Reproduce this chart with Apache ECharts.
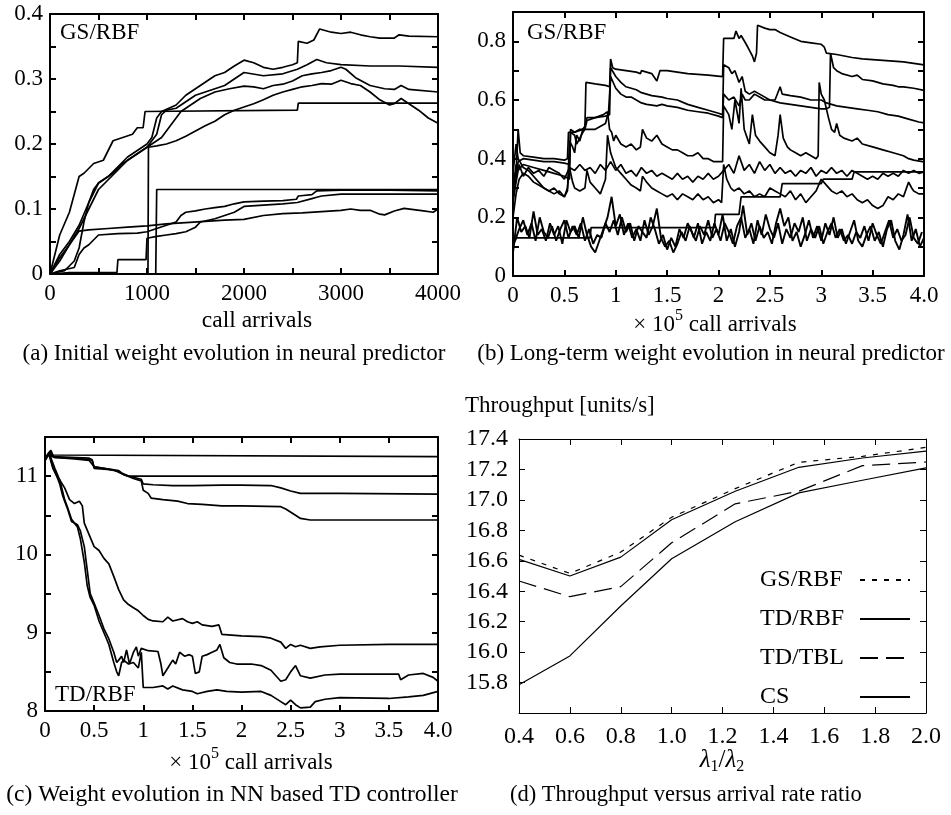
<!DOCTYPE html>
<html><head><meta charset="utf-8">
<script src="https://cdn.jsdelivr.net/npm/echarts@6/dist/echarts.min.js"></script>
<style>html,body{margin:0;padding:0;background:#fff}#c{width:951px;height:815px}</style>
</head><body><div id="c"></div>
<script>
// ---------- (a) Initial weight evolution (x: call arrivals, y: weight) ----------
const aW1 = [[0,0],[100,0.03],[200,0.05],[300,0.075],[400,0.11],[500,0.14],[600,0.15],[700,0.165],[800,0.18],[900,0.19],[1000,0.2],[1050,0.21],[1100,0.24],[1150,0.25],[1300,0.26],[1400,0.275],[1500,0.285],[1600,0.295],[1700,0.305],[1800,0.31],[1900,0.32],[2000,0.329],[2100,0.325],[2200,0.318],[2300,0.315],[2400,0.318],[2500,0.322],[2550,0.325],[2560,0.358],[2650,0.355],[2720,0.36],[2780,0.377],[2900,0.372],[3000,0.37],[3100,0.372],[3200,0.368],[3300,0.365],[3400,0.363],[3550,0.363],[3600,0.368],[3700,0.366],[4000,0.365]];
const aW2 = [[0,0],[100,0.025],[200,0.045],[300,0.07],[400,0.1],[500,0.13],[600,0.145],[700,0.16],[800,0.175],[900,0.185],[1000,0.195],[1100,0.215],[1150,0.245],[1200,0.252],[1300,0.255],[1400,0.265],[1500,0.275],[1600,0.28],[1700,0.285],[1800,0.29],[1900,0.3],[2000,0.31],[2200,0.305],[2400,0.308],[2550,0.315],[2650,0.322],[2750,0.33],[2850,0.325],[3000,0.322],[3300,0.32],[3600,0.32],[4000,0.318]];
const aW3 = [[0,0],[150,0.005],[250,0.02],[300,0.04],[350,0.08],[400,0.11],[450,0.13],[500,0.14],[650,0.155],[750,0.17],[850,0.18],[950,0.19],[1050,0.2],[1150,0.21],[1250,0.23],[1350,0.25],[1450,0.26],[1550,0.27],[1700,0.28],[1850,0.285],[2000,0.289],[2100,0.288],[2200,0.285],[2300,0.29],[2400,0.292],[2500,0.297],[2600,0.305],[2700,0.308],[2800,0.31],[2900,0.313],[3000,0.318],[3050,0.315],[3150,0.302],[3300,0.29],[3450,0.285],[3550,0.284],[3620,0.29],[3700,0.284],[4000,0.28]];
const aW4 = [[0,0],[1010,0],[1015,0.195],[1100,0.197],[1200,0.2],[1300,0.205],[1400,0.212],[1500,0.22],[1600,0.228],[1700,0.235],[1800,0.245],[1900,0.252],[2000,0.257],[2100,0.262],[2200,0.268],[2300,0.275],[2400,0.28],[2500,0.284],[2600,0.288],[2700,0.29],[2800,0.293],[2900,0.292],[3000,0.298],[3100,0.293],[3200,0.29],[3300,0.28],[3400,0.268],[3500,0.26],[3550,0.262],[3620,0.27],[3700,0.262],[3800,0.252],[3900,0.24],[4000,0.232]];
const aW5 = [[0,0],[50,0.03],[100,0.06],[200,0.095],[300,0.15],[350,0.155],[450,0.17],[550,0.175],[600,0.19],[650,0.205],[750,0.21],[850,0.215],[900,0.225],[960,0.225],[980,0.25],[2550,0.252],[2560,0.263],[4000,0.263]];
const aW6 = [[0,0],[1090,0],[1100,0.13],[4000,0.13]];
const aW7 = [[0,0],[100,0.005],[250,0.01],[300,0.03],[350,0.04],[400,0.045],[500,0.06],[700,0.062],[900,0.063],[1000,0.065],[1100,0.07],[1200,0.075],[1300,0.08],[1350,0.09],[1400,0.095],[1500,0.097],[1600,0.1],[1700,0.102],[1800,0.104],[1900,0.108],[2000,0.111],[2200,0.112],[2400,0.113],[2540,0.115],[2560,0.12],[2700,0.122],[2750,0.128],[3000,0.129],[3500,0.129],[4000,0.128]];
const aW8 = [[0,0],[200,0.002],[690,0.002],[700,0.022],[990,0.022],[1000,0.055],[1100,0.058],[1200,0.06],[1300,0.062],[1400,0.065],[1500,0.072],[1550,0.08],[1700,0.085],[1800,0.09],[1900,0.095],[2000,0.104],[2200,0.106],[2400,0.108],[2550,0.11],[2700,0.116],[2750,0.118],[2800,0.12],[3000,0.123],[3500,0.123],[4000,0.123]];
const aW9 = [[0,0],[100,0.02],[200,0.045],[300,0.066],[400,0.068],[600,0.07],[800,0.072],[1000,0.074],[1200,0.077],[1400,0.079],[1600,0.081],[1800,0.083],[2000,0.084],[2200,0.09],[2400,0.093],[2600,0.094],[2800,0.096],[3000,0.098],[3100,0.1],[3200,0.098],[3300,0.098],[3400,0.092],[3450,0.091],[3550,0.097],[3650,0.101],[3750,0.099],[3850,0.097],[3950,0.095],[4000,0.1]];

// ---------- (b) Long-term weight evolution (x: 1e5 call arrivals) ----------
const bW1 = [[0,0.3],[0.03,0.35],[0.05,0.5],[0.07,0.42],[0.1,0.41],[0.2,0.405],[0.3,0.4],[0.4,0.4],[0.5,0.395],[0.53,0.4],[0.54,0.49],[0.6,0.49],[0.68,0.5],[0.7,0.51],[0.71,0.66],[0.8,0.655],[0.9,0.65],[0.94,0.645],[0.95,0.74],[0.97,0.71],[1.0,0.705],[1.1,0.7],[1.2,0.695],[1.24,0.69],[1.25,0.7],[1.35,0.69],[1.4,0.665],[1.43,0.7],[1.5,0.70],[1.7,0.69],[1.9,0.685],[2.04,0.68],[2.05,0.81],[2.15,0.81],[2.17,0.835],[2.2,0.81],[2.22,0.82],[2.27,0.79],[2.3,0.77],[2.33,0.75],[2.35,0.73],[2.37,0.76],[2.38,0.855],[2.45,0.845],[2.5,0.84],[2.55,0.84],[2.6,0.83],[2.7,0.815],[2.8,0.8],[2.9,0.795],[3.0,0.79],[3.03,0.78],[3.05,0.76],[3.15,0.755],[3.3,0.745],[3.4,0.74],[3.6,0.735],[3.8,0.73],[4.0,0.72]];
const bW2 = [[0,0.28],[0.03,0.33],[0.05,0.39],[0.1,0.4],[0.2,0.395],[0.3,0.39],[0.4,0.39],[0.5,0.385],[0.55,0.38],[0.56,0.5],[0.6,0.49],[0.65,0.5],[0.7,0.5],[0.72,0.53],[0.8,0.54],[0.9,0.545],[0.94,0.55],[0.95,0.71],[1.0,0.68],[1.05,0.66],[1.1,0.645],[1.2,0.635],[1.25,0.625],[1.3,0.62],[1.35,0.615],[1.45,0.61],[1.5,0.605],[1.6,0.6],[1.7,0.585],[1.8,0.575],[1.9,0.565],[2.0,0.555],[2.04,0.55],[2.05,0.72],[2.1,0.71],[2.13,0.69],[2.16,0.7],[2.2,0.66],[2.23,0.68],[2.26,0.63],[2.3,0.62],[2.35,0.63],[2.4,0.62],[2.5,0.6],[2.6,0.59],[2.7,0.585],[2.8,0.58],[2.9,0.575],[3.0,0.57],[3.05,0.57],[3.08,0.575],[3.09,0.76],[3.12,0.71],[3.15,0.7],[3.2,0.69],[3.3,0.68],[3.35,0.685],[3.4,0.67],[3.5,0.665],[3.6,0.655],[3.7,0.65],[3.75,0.645],[3.8,0.645],[3.9,0.64],[4.0,0.633]];
const bW3 = [[0,0.3],[0.03,0.38],[0.05,0.36],[0.1,0.38],[0.2,0.37],[0.3,0.36],[0.4,0.35],[0.5,0.34],[0.55,0.33],[0.56,0.49],[0.6,0.48],[0.62,0.45],[0.65,0.47],[0.68,0.49],[0.7,0.5],[0.8,0.5],[0.9,0.52],[0.93,0.56],[0.95,0.68],[1.0,0.64],[1.05,0.62],[1.1,0.61],[1.15,0.61],[1.2,0.6],[1.25,0.59],[1.3,0.585],[1.4,0.58],[1.45,0.585],[1.5,0.58],[1.6,0.575],[1.7,0.565],[1.8,0.56],[1.9,0.555],[2.0,0.545],[2.04,0.54],[2.05,0.62],[2.1,0.6],[2.15,0.61],[2.2,0.58],[2.23,0.62],[2.26,0.6],[2.3,0.6],[2.35,0.62],[2.4,0.61],[2.45,0.6],[2.5,0.6],[2.55,0.6],[2.6,0.645],[2.62,0.62],[2.7,0.615],[2.8,0.61],[2.9,0.6],[3.0,0.6],[3.05,0.59],[3.15,0.58],[3.25,0.575],[3.35,0.57],[3.45,0.565],[3.55,0.56],[3.65,0.55],[3.75,0.545],[3.85,0.535],[3.95,0.525],[4.0,0.522]];
const bW4 = [[0,0.35],[0.03,0.45],[0.05,0.4],[0.1,0.37],[0.15,0.36],[0.2,0.34],[0.25,0.32],[0.3,0.3],[0.35,0.29],[0.4,0.28],[0.45,0.29],[0.5,0.27],[0.53,0.29],[0.55,0.46],[0.58,0.44],[0.6,0.42],[0.62,0.48],[0.65,0.46],[0.68,0.5],[0.7,0.51],[0.72,0.54],[0.8,0.54],[0.88,0.55],[0.92,0.56],[0.94,0.5],[0.96,0.49],[0.98,0.46],[1.0,0.48],[1.05,0.45],[1.1,0.44],[1.15,0.45],[1.2,0.43],[1.24,0.44],[1.26,0.5],[1.3,0.47],[1.35,0.46],[1.4,0.48],[1.45,0.45],[1.5,0.44],[1.55,0.43],[1.6,0.43],[1.65,0.42],[1.7,0.41],[1.75,0.41],[1.8,0.42],[1.85,0.4],[1.9,0.4],[1.95,0.39],[2.0,0.39],[2.04,0.39],[2.05,0.58],[2.1,0.55],[2.13,0.5],[2.16,0.6],[2.2,0.52],[2.22,0.64],[2.25,0.5],[2.28,0.47],[2.3,0.45],[2.33,0.55],[2.36,0.48],[2.4,0.46],[2.45,0.44],[2.5,0.42],[2.55,0.41],[2.58,0.48],[2.6,0.55],[2.63,0.47],[2.67,0.44],[2.7,0.43],[2.75,0.42],[2.8,0.41],[2.85,0.42],[2.9,0.41],[2.95,0.4],[2.97,0.41],[2.98,0.66],[3.0,0.62],[3.03,0.6],[3.07,0.54],[3.1,0.5],[3.13,0.49],[3.15,0.52],[3.18,0.48],[3.22,0.47],[3.3,0.46],[3.35,0.47],[3.4,0.45],[3.5,0.44],[3.6,0.43],[3.7,0.42],[3.8,0.41],[3.85,0.4],[3.9,0.395],[4.0,0.389]];
const bW5 = [[0,0.25],[0.03,0.32],[0.06,0.38],[0.1,0.34],[0.15,0.37],[0.2,0.35],[0.25,0.36],[0.3,0.34],[0.35,0.37],[0.4,0.36],[0.45,0.35],[0.5,0.33],[0.55,0.37],[0.6,0.36],[0.65,0.38],[0.7,0.36],[0.75,0.37],[0.8,0.35],[0.85,0.38],[0.9,0.36],[0.95,0.39],[1.0,0.36],[1.05,0.38],[1.1,0.35],[1.15,0.36],[1.2,0.34],[1.25,0.37],[1.3,0.35],[1.35,0.36],[1.4,0.34],[1.45,0.35],[1.5,0.34],[1.55,0.33],[1.6,0.35],[1.65,0.33],[1.7,0.34],[1.75,0.32],[1.8,0.34],[1.85,0.33],[1.9,0.35],[1.95,0.33],[2.0,0.34],[2.05,0.36],[2.1,0.38],[2.15,0.35],[2.2,0.41],[2.25,0.36],[2.3,0.38],[2.35,0.35],[2.4,0.39],[2.45,0.36],[2.5,0.38],[2.55,0.35],[2.6,0.37],[2.65,0.35],[2.7,0.36],[2.75,0.34],[2.8,0.36],[2.85,0.35],[2.9,0.37],[2.95,0.34],[3.0,0.36],[3.05,0.35],[3.1,0.37],[3.15,0.35],[3.2,0.36],[3.25,0.34],[3.3,0.36],[3.35,0.35],[3.4,0.34],[3.45,0.33],[3.5,0.34],[3.55,0.33],[3.6,0.35],[3.65,0.34],[3.7,0.35],[3.75,0.34],[3.8,0.36],[3.85,0.35],[3.9,0.36],[3.95,0.35],[4.0,0.355]];
const bW6 = [[0,0.1],[0.03,0.13],[0.75,0.13],[0.76,0.165],[1.96,0.165],[1.97,0.21],[2.2,0.21],[2.22,0.27],[2.6,0.27],[2.62,0.315],[3.0,0.315],[3.02,0.33],[3.3,0.33],[3.32,0.355],[4.0,0.355]];
const bW7 = [[0,0.2],[0.03,0.28],[0.06,0.33],[0.1,0.35],[0.15,0.34],[0.2,0.32],[0.25,0.31],[0.3,0.3],[0.35,0.29],[0.4,0.3],[0.45,0.28],[0.5,0.27],[0.53,0.3],[0.55,0.37],[0.58,0.32],[0.6,0.3],[0.65,0.29],[0.7,0.3],[0.72,0.36],[0.75,0.32],[0.8,0.3],[0.85,0.28],[0.9,0.33],[0.92,0.48],[0.95,0.42],[1.0,0.37],[1.05,0.35],[1.1,0.33],[1.15,0.31],[1.2,0.3],[1.24,0.29],[1.26,0.34],[1.3,0.32],[1.35,0.3],[1.4,0.29],[1.45,0.28],[1.5,0.27],[1.55,0.28],[1.6,0.26],[1.65,0.28],[1.7,0.27],[1.75,0.26],[1.8,0.28],[1.85,0.26],[1.9,0.27],[1.95,0.25],[2.0,0.26],[2.03,0.25],[2.05,0.38],[2.08,0.33],[2.12,0.3],[2.15,0.29],[2.2,0.3],[2.25,0.28],[2.3,0.29],[2.35,0.27],[2.4,0.28],[2.45,0.27],[2.5,0.3],[2.55,0.29],[2.6,0.28],[2.65,0.27],[2.7,0.29],[2.75,0.26],[2.8,0.28],[2.85,0.25],[2.9,0.27],[2.95,0.29],[3.0,0.33],[3.05,0.31],[3.1,0.29],[3.15,0.28],[3.2,0.29],[3.25,0.27],[3.3,0.28],[3.35,0.26],[3.4,0.25],[3.45,0.26],[3.5,0.24],[3.55,0.23],[3.6,0.24],[3.65,0.27],[3.7,0.26],[3.75,0.28],[3.8,0.27],[3.85,0.32],[3.88,0.3],[3.9,0.29],[3.95,0.28],[4.0,0.28]];
// noisy low weights, sampled every 0.04 (bN1 from 0, bN2 from 0.02)
const bN1 = [0.08,0.2,0.15,0.17,0.13,0.22,0.14,0.16,0.12,0.18,
 0.14,0.17,0.11,0.19,0.15,0.17,0.13,0.2,0.14,0.1,
 0.08,0.12,0.16,0.2,0.27,0.17,0.21,0.14,0.18,0.13,
 0.16,0.12,0.19,0.14,0.17,0.23,0.13,0.1,0.12,0.08,
 0.11,0.15,0.12,0.17,0.13,0.18,0.11,0.15,0.12,0.18,
 0.14,0.21,0.12,0.16,0.1,0.15,0.24,0.14,0.18,0.12,
 0.17,0.13,0.15,0.11,0.18,0.23,0.17,0.2,0.12,0.15,
 0.1,0.14,0.19,0.13,0.17,0.12,0.18,0.14,0.2,0.13,
 0.16,0.11,0.15,0.19,0.12,0.1,0.14,0.17,0.12,0.15,
 0.1,0.16,0.19,0.12,0.09,0.14,0.21,0.12,0.16,0.1,0.13];
const bN2 = [0.12,0.16,0.19,0.14,0.18,0.12,0.2,0.15,0.13,0.17,
 0.12,0.16,0.19,0.13,0.17,0.14,0.18,0.12,0.16,0.11,
 0.14,0.13,0.18,0.15,0.19,0.14,0.2,0.15,0.18,0.12,
 0.17,0.15,0.13,0.2,0.16,0.11,0.14,0.09,0.13,0.1,
 0.16,0.13,0.18,0.15,0.12,0.17,0.14,0.19,0.13,0.16,
 0.12,0.18,0.15,0.11,0.17,0.2,0.13,0.16,0.11,0.19,
 0.14,0.21,0.16,0.13,0.18,0.11,0.16,0.13,0.18,0.15,
 0.2,0.12,0.16,0.13,0.17,0.11,0.15,0.18,0.13,0.16,
 0.12,0.14,0.11,0.15,0.13,0.17,0.12,0.18,0.14,0.11,
 0.15,0.19,0.13,0.16,0.12,0.14,0.2,0.13,0.11,0.15];

// ---------- (c) TD controller weights ----------
const cW1 = [[0,11.22],[0.03,11.28],[0.06,11.33],[0.08,11.27],[0.1,11.25],[4,11.25]];
const cW2 = [[0,11.22],[0.04,11.3],[0.07,11.25],[0.45,11.23],[0.48,11.21],[0.5,11.1],[0.7,11.08],[0.75,11.05],[0.8,11.02],[0.85,11.0],[4,11.0]];
const cW3 = [[0,11.2],[0.05,11.32],[0.09,11.24],[0.3,11.23],[0.45,11.21],[0.48,11.2],[0.5,11.12],[0.6,11.1],[0.75,11.07],[0.78,11.04],[0.85,11.0],[0.92,10.98],[0.98,10.96],[1.0,10.9],[1.1,10.89],[1.3,10.88],[1.5,10.88],[1.8,10.885],[2.0,10.885],[2.3,10.88],[2.4,10.85],[2.5,10.81],[2.6,10.78],[3.0,10.78],[4.0,10.77]];
const cW4 = [[0,11.22],[0.05,11.3],[0.1,11.24],[0.3,11.22],[0.45,11.2],[0.5,11.12],[0.6,11.1],[0.75,11.06],[0.8,11.02],[0.9,10.97],[0.98,10.94],[1.0,10.82],[1.05,10.78],[1.08,10.72],[1.2,10.7],[1.35,10.68],[1.45,10.65],[1.6,10.64],[1.8,10.62],[2.0,10.62],[2.4,10.61],[2.45,10.58],[2.55,10.5],[2.6,10.46],[2.7,10.44],[3.0,10.44],[4.0,10.44]];
const cW5 = [[0,11.22],[0.04,11.3],[0.07,11.2],[0.1,11.1],[0.15,10.95],[0.2,10.85],[0.25,10.7],[0.3,10.65],[0.35,10.68],[0.38,10.62],[0.4,10.4],[0.45,10.25],[0.5,10.1],[0.55,10.05],[0.6,9.95],[0.65,9.88],[0.7,9.72],[0.75,9.55],[0.8,9.42],[0.85,9.36],[0.9,9.32],[0.95,9.28],[1.0,9.22],[1.05,9.17],[1.1,9.15],[1.2,9.14],[1.25,9.2],[1.3,9.15],[1.4,9.18],[1.45,9.14],[1.5,9.12],[1.55,9.14],[1.6,9.1],[1.7,9.08],[1.77,9.1],[1.8,8.98],[1.9,8.97],[2.0,8.96],[2.2,8.95],[2.3,8.93],[2.4,8.88],[2.45,8.8],[2.5,8.85],[2.55,8.82],[2.6,8.84],[2.7,8.8],[2.8,8.82],[3.0,8.84],[3.5,8.85],[4.0,8.85]];
const cW6 = [[0,11.2],[0.04,11.28],[0.08,11.1],[0.12,11.0],[0.15,10.95],[0.18,10.8],[0.2,10.7],[0.23,10.6],[0.27,10.45],[0.3,10.4],[0.33,10.38],[0.36,10.3],[0.4,10.1],[0.43,9.8],[0.46,9.5],[0.5,9.38],[0.55,9.22],[0.6,9.05],[0.65,8.92],[0.7,8.75],[0.73,8.62],[0.75,8.65],[0.78,8.7],[0.8,8.62],[0.83,8.78],[0.86,8.6],[0.9,8.75],[0.93,8.82],[0.95,8.7],[0.98,8.8],[1.05,8.77],[1.15,8.76],[1.18,8.6],[1.2,8.45],[1.25,8.55],[1.3,8.65],[1.33,8.6],[1.37,8.75],[1.42,8.7],[1.47,8.72],[1.5,8.7],[1.53,8.48],[1.57,8.5],[1.6,8.7],[1.65,8.72],[1.7,8.75],[1.75,8.78],[1.78,8.85],[1.82,8.68],[1.88,8.62],[1.95,8.6],[2.1,8.6],[2.2,8.58],[2.3,8.52],[2.35,8.45],[2.4,8.38],[2.45,8.4],[2.5,8.5],[2.55,8.58],[2.6,8.45],[2.7,8.42],[2.85,8.46],[3.0,8.47],[3.3,8.47],[3.6,8.47],[3.62,8.4],[3.7,8.46],[3.85,8.48],[3.95,8.43],[4.0,8.38]];
const cW7 = [[0,11.2],[0.04,11.3],[0.08,11.12],[0.12,11.0],[0.15,10.9],[0.18,10.75],[0.2,10.68],[0.23,10.58],[0.27,10.42],[0.3,10.4],[0.33,10.35],[0.36,10.2],[0.4,9.9],[0.43,9.6],[0.46,9.45],[0.5,9.35],[0.55,9.15],[0.6,9.0],[0.65,8.85],[0.7,8.62],[0.73,8.5],[0.75,8.45],[0.78,8.62],[0.8,8.65],[0.85,8.6],[0.9,8.62],[0.95,8.55],[0.98,8.75],[1.0,8.3],[1.1,8.3],[1.2,8.32],[1.25,8.28],[1.3,8.32],[1.4,8.27],[1.5,8.25],[1.55,8.22],[1.65,8.25],[1.75,8.27],[1.85,8.25],[2.0,8.24],[2.2,8.25],[2.3,8.2],[2.4,8.12],[2.45,8.08],[2.5,8.14],[2.55,8.08],[2.6,8.04],[2.7,8.05],[2.75,8.12],[2.85,8.15],[3.0,8.17],[3.5,8.16],[3.7,8.18],[3.85,8.2],[4.0,8.25]];

// ---------- (d) Throughput vs arrival rate ratio ----------
const dRatio = [0.4, 0.6, 0.8, 1.0, 1.25, 1.5, 1.75, 2.0];
const dGSRBF = [16.637, 16.517, 16.657, 16.886, 17.074, 17.247, 17.286, 17.345];
const dTDRBF = [16.609, 16.500, 16.624, 16.870, 17.057, 17.214, 17.275, 17.320];
const dTDTBL = [16.467, 16.364, 16.430, 16.718, 16.974, 17.057, 17.225, 17.249];
const dCS    = [15.785, 15.975, 16.303, 16.613, 16.856, 17.046, 17.129, 17.210];

// ---------- build ----------
const FONT = 'Liberation Serif';
const chart = echarts.init(document.getElementById('c'), null, {renderer: 'canvas'});

const grids = [
  {left: 50, top: 14, width: 388, height: 260},
  {left: 513, top: 12, width: 411, height: 264},
  {left: 45, top: 437, width: 393, height: 274},
  {left: 519, top: 439, width: 407, height: 274}
];
const xCfg = [
  {min: 0, max: 4000, interval: 500, fmt: v => (v % 1000 === 0 ? String(v) : ''), lw: 2},
  {min: 0, max: 4, interval: 0.5, fmt: v => (v === 4 ? '4.0' : String(Math.round(v * 10) / 10)), lw: 2},
  {min: 0, max: 4, interval: 0.5, fmt: v => (v === 4 ? '4.0' : String(Math.round(v * 10) / 10)), lw: 2},
  {min: 0.4, max: 2.0, interval: 0.2, fmt: v => v.toFixed(1), lw: 1}
];
const yCfg = [
  {min: 0, max: 0.4, interval: 0.05, fmt: v => (Math.round(v * 20) % 2 === 0 ? (v === 0 ? '0' : v.toFixed(1)) : ''), lw: 2},
  {min: 0, max: 0.9, interval: 0.1, fmt: v => (Math.round(v * 10) % 2 === 0 ? (v === 0 ? '0' : v.toFixed(1)) : ''), lw: 2},
  {min: 8, max: 11.5, interval: 0.5, fmt: v => (Math.abs(v - Math.round(v)) < 1e-6 ? String(Math.round(v)) : ''), lw: 2},
  {min: 15.6, max: 17.4, interval: 0.2, fmt: v => (v < 15.7 ? '' : v.toFixed(1)), lw: 1}
];
const xAxes = [], yAxes = [];
grids.forEach((g, i) => {
  const xc = xCfg[i], yc = yCfg[i];
  const line = {show: true, onZero: false, lineStyle: {color: '#000', width: xc.lw}};
  const tick = {show: true, inside: true, length: 6, lineStyle: {color: '#000', width: xc.lw}};
  const lab = {fontFamily: FONT, fontSize: i === 3 ? 24 : 23, color: '#000'};
  xAxes.push({gridIndex: i, type: 'value', position: 'bottom', min: xc.min, max: xc.max, interval: xc.interval,
    axisLine: line, axisTick: tick, splitLine: {show: false},
    axisLabel: Object.assign({formatter: xc.fmt, margin: i === 3 ? 12 : 8, showMinLabel: true, showMaxLabel: true}, lab)});
  xAxes.push({gridIndex: i, type: 'value', position: 'top', min: xc.min, max: xc.max, interval: xc.interval,
    axisLine: line, axisTick: tick, splitLine: {show: false}, axisLabel: {show: false}});
  yAxes.push({gridIndex: i, type: 'value', position: 'left', min: yc.min, max: yc.max, interval: yc.interval,
    axisLine: line, axisTick: tick, splitLine: {show: false},
    axisLabel: Object.assign({formatter: yc.fmt, margin: i === 3 ? 11 : 7, showMinLabel: true, showMaxLabel: true}, lab)});
  yAxes.push({gridIndex: i, type: 'value', position: 'right', min: yc.min, max: yc.max, interval: yc.interval,
    axisLine: line, axisTick: tick, splitLine: {show: false}, axisLabel: {show: false}});
});

const series = [];
function addLine(gi, data, extra) {
  series.push(Object.assign({type: 'line', xAxisIndex: 2 * gi, yAxisIndex: 2 * gi, data: data,
    symbol: 'none', silent: true, animation: false,
    itemStyle: {color: '#000'},
    lineStyle: {color: '#000', width: 1.7}}, extra || {}));
}
[aW1, aW2, aW3, aW4, aW5, aW6, aW7, aW8, aW9].forEach(d => addLine(0, d));
[bW1, bW2, bW3, bW4, bW5, bW6, bW7].forEach(d => addLine(1, d));
addLine(1, bN1.map((v, k) => [k * 0.04, v]), {lineStyle: {color: '#000', width: 1.9}});
addLine(1, bN2.map((v, k) => [0.02 + k * 0.04, v]), {lineStyle: {color: '#000', width: 1.9}});
[cW1, cW2, cW3, cW4, cW5, cW6, cW7].forEach(d => addLine(2, d));
const dNames = ['GS/RBF', 'TD/RBF', 'TD/TBL', 'CS'];
const dVals = [dGSRBF, dTDRBF, dTDTBL, dCS];
const dTypes = [[5, 7], 'solid', [18, 8], 'solid'];
dVals.forEach((vals, k) => {
  addLine(3, dRatio.map((r, j) => [r, vals[j]]), {name: dNames[k],
    lineStyle: {color: '#000', width: 1.2, type: dTypes[k]}});
});

function txt(x, y, text, size, align, extra) {
  return {type: 'text', x: x, y: y, silent: true,
    style: Object.assign({text: text, font: size + 'px "' + FONT + '"', fill: '#000',
      textAlign: align || 'left', textVerticalAlign: 'middle'}, extra || {})};
}
const richSup = {
  n: {fontFamily: FONT, fontSize: 23, color: '#000', lineHeight: 28, verticalAlign: 'bottom'},
  sup: {fontFamily: FONT, fontSize: 16, color: '#000', lineHeight: 28, verticalAlign: 'top'}
};
const richLam = {
  l: {fontFamily: FONT, fontSize: 25, fontStyle: 'italic', color: '#000', lineHeight: 30, verticalAlign: 'middle'},
  n: {fontFamily: FONT, fontSize: 25, color: '#000', lineHeight: 30, verticalAlign: 'middle'},
  s: {fontFamily: FONT, fontSize: 16, color: '#000', lineHeight: 30, verticalAlign: 'bottom'}
};
const graphics = [
  txt(60, 33, 'GS/RBF', 23),
  txt(527, 33, 'GS/RBF', 23),
  txt(55, 695, 'TD/RBF', 23),
  txt(257, 321, 'call arrivals', 23.5, 'center'),
  txt(715, 322, '{n|\u00d7 10}{sup|5}{n| call arrivals}', 23, 'center', {rich: richSup}),
  txt(251, 760, '{n|\u00d7 10}{sup|5}{n| call arrivals}', 23, 'center', {rich: richSup}),
  txt(722, 760, '{l|\u03bb}{s|1}{n|/}{l|\u03bb}{s|2}', 25, 'center', {rich: richLam}),
  txt(465, 406, 'Throughput [units/s]', 23),
  txt(234, 354, '(a) Initial weight evolution in neural predictor', 23, 'center'),
  txt(711, 354, '(b) Long-term weight evolution in neural predictor', 23, 'center'),
  txt(232, 795, '(c) Weight evolution in NN based TD controller', 23.5, 'center'),
  txt(510, 795, '(d) Throughput versus arrival rate ratio', 22.5, 'left')
];

chart.setOption({
  backgroundColor: '#fff',
  animation: false,
  grid: grids.map(g => Object.assign({containLabel: false}, g)),
  xAxis: xAxes,
  yAxis: yAxes,
  legend: {
    data: dNames, orient: 'vertical', left: 755, top: 563, align: 'right',
    itemWidth: 50, itemHeight: 14, itemGap: 15, selectedMode: false,
    itemStyle: {opacity: 0},
    formatter: '{t|{name}}',
    textStyle: {rich: {t: {fontFamily: FONT, fontSize: 24, color: '#000', width: 95, lineHeight: 24, align: 'left'}}}
  },
  series: series,
  graphic: graphics
});
</script></body></html>
